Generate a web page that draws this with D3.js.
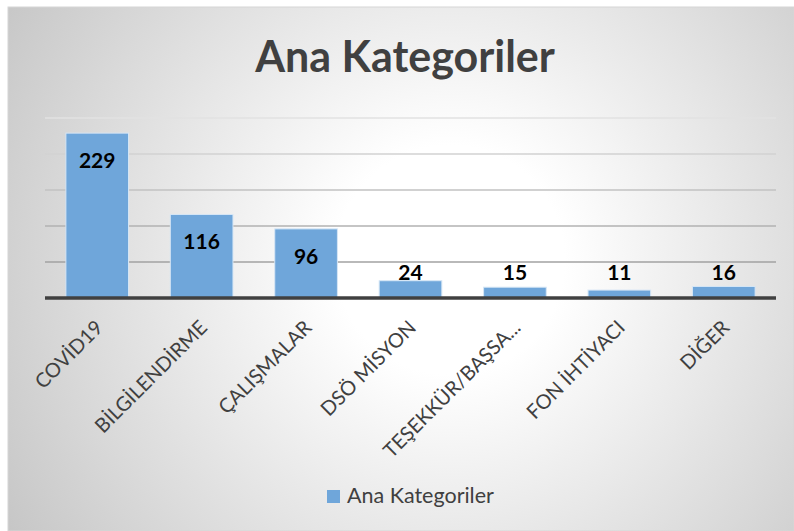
<!DOCTYPE html>
<html>
<head>
<meta charset="utf-8">
<script src="https://cdn.jsdelivr.net/npm/d3@7"></script>
<style>
  body { margin:0; background:#fff; }
  svg { display:block; }
</style>
</head>
<body>
<div id="chart"></div>
<script>
  var categories = ["COVİD19","BİLGİLENDİRME","ÇALIŞMALAR","DSÖ MİSYON","TEŞEKKÜR/BAŞSA...","FON İHTİYACI","DİĞER"];
  var values = [229,116,96,24,15,11,16];
  var yTicks = [0,50,100,150,200,250];
  var seriesName = "Ana Kategoriler";
  var title = "Ana Kategoriler";

  var width = 794, height = 531;
  var svg = d3.select("#chart").append("svg")
              .attr("width", width)
              .attr("height", height);

  // radial background like the excel style
  var defs = svg.append("defs");
  var grad = defs.append("radialGradient")
      .attr("id","bg")
      .attr("gradientUnits","userSpaceOnUse")
      .attr("cx",450).attr("cy",260).attr("r",520);
  grad.append("stop").attr("offset","0%").attr("stop-color","#ffffff");
  grad.append("stop").attr("offset","22%").attr("stop-color","#ffffff");
  grad.append("stop").attr("offset","100%").attr("stop-color","#c6c6c6");

  svg.append("rect")
     .attr("x",8).attr("y",7)
     .attr("width",width-8).attr("height",height-7)
     .attr("fill","url(#bg)")
     .attr("stroke","#d6d6d6").attr("stroke-width",1);

  var x = d3.scaleBand()
      .domain(categories)
      .range([45,776])
      .paddingInner(0.4)
      .paddingOuter(0.2);
  var y = d3.scaleLinear()
      .domain([0,250])
      .range([298,118]);
  var gridColor = d3.scaleLinear().domain([50,250]).range(["#a2a2a2","#e2e2e2"]);

  // gridlines
  svg.append("g").selectAll("line")
     .data(yTicks.filter(function(d){ return d>0; }))
     .enter().append("line")
     .attr("x1",45).attr("x2",776)
     .attr("y1",function(d){ return y(d); })
     .attr("y2",function(d){ return y(d); })
     .attr("stroke",function(d){ return gridColor(d); })
     .attr("stroke-width",1.5);

  // bars
  svg.append("g").selectAll("rect")
     .data(values)
     .enter().append("rect")
     .attr("x",function(d,i){ return x(categories[i]); })
     .attr("y",function(d){ return y(d); })
     .attr("width",x.bandwidth())
     .attr("height",function(d){ return y(0)-y(d); })
     .attr("fill","#6fa6da")
     .attr("stroke","#d6e6f5")
     .attr("stroke-width",1);

  // x axis line
  svg.append("line")
     .attr("x1",45).attr("x2",776)
     .attr("y1",y(0)).attr("y2",y(0))
     .attr("stroke","#404040").attr("stroke-width",3.5);

  // value labels
  svg.append("g").selectAll("text")
     .data(values)
     .enter().append("text")
     .attr("x",function(d,i){ return x(categories[i]) + x.bandwidth()/2; })
     .attr("y",function(d){ return d>50 ? y(d)+35 : y(0)-18; })
     .attr("text-anchor","middle")
     .style("font-family","Lato, 'Open Sans', sans-serif")
     .style("font-weight","bold")
     .style("font-size","21px")
     .style("fill","#000")
     .text(function(d){ return d; });

  // category labels, rotated
  svg.append("g").selectAll("text")
     .data(categories)
     .enter().append("text")
     .attr("transform",function(d){
        return "translate(" + (x(d)+x.bandwidth()/2-3) + "," + 319 + ") rotate(-45)";
     })
     .attr("text-anchor","end")
     .attr("dy","0.7em")
     .style("font-family","Lato, 'Open Sans', sans-serif")
     .style("font-size","20px")
     .style("fill","#404040")
     .text(function(d){ return d; });

  // title
  svg.append("text")
     .attr("x",405).attr("y",72)
     .attr("text-anchor","middle")
     .style("font-family","Lato, 'Open Sans', sans-serif")
     .style("font-weight","bold")
     .style("font-size","43px")
     .style("fill","#404040")
     .text(title);

  // legend
  var legend = svg.append("g");
  legend.append("rect")
     .attr("x",327).attr("y",490)
     .attr("width",13).attr("height",13)
     .attr("fill","#6fa6da");
  legend.append("text")
     .attr("x",347).attr("y",503)
     .style("font-family","Lato, 'Open Sans', sans-serif")
     .style("font-size","21.5px")
     .style("fill","#404040")
     .text(seriesName);
</script>
</body>
</html>
